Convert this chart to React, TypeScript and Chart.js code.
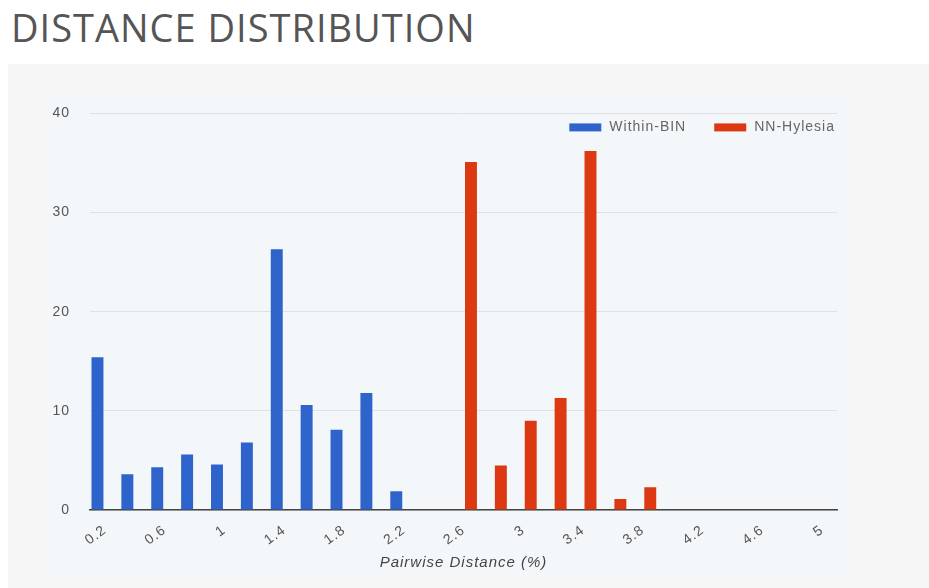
import React, { useEffect, useRef } from "react";
import { Chart, registerables } from "chart.js";

Chart.register(...registerables);

const distances = [
  "0.2", "0.4", "0.6", "0.8", "1", "1.2", "1.4", "1.6", "1.8", "2", "2.2", "2.4", "2.6",
  "2.8", "3", "3.2", "3.4", "3.6", "3.8", "4", "4.2", "4.4", "4.6", "4.8", "5",
];
const withinBin = [
  15.4, 3.6, 4.3, 5.6, 4.6, 6.8, 26.3, 10.6, 8.1, 11.8, 1.9, null, null,
  null, null, null, null, null, null, null, null, null, null, null, null,
];
const nnHylesia = [
  null, null, null, null, null, null, null, null, null, null, null, null, 35.1,
  4.5, 9.0, 11.3, 36.2, 1.1, 2.3, null, null, null, null, null, null,
];
const seriesNames = ["Within-BIN", "NN-Hylesia"];
const seriesColors = ["#2f63cc", "#dc3912"];
const xTitle = "Pairwise Distance (%)";
const chartTitle = "DISTANCE DISTRIBUTION";

const FONT = "Arial, 'Liberation Sans', sans-serif";

const spacingPlugin = {
  id: "spacing",
  beforeUpdate(chart: any) {
    chart.ctx.letterSpacing = "1px";
  },
  beforeDraw(chart: any) {
    chart.ctx.letterSpacing = "1px";
  },
};

const legendPlugin = {
  id: "insideLegend",
  afterDraw(chart: any) {
    const ctx = chart.ctx;
    const area = chart.chartArea;
    ctx.save();
    ctx.letterSpacing = "1px";
    ctx.font = `14px ${FONT}`;
    ctx.textBaseline = "middle";
    ctx.textAlign = "left";
    const boxW = 32;
    const boxH = 8;
    const gapBoxText = 8;
    const gapItems = 28;
    const items = chart.data.datasets.map((d: any) => ({
      label: d.label,
      color: d.backgroundColor,
      w: boxW + gapBoxText + ctx.measureText(d.label).width,
    }));
    const total = items.reduce((a: number, it: any) => a + it.w, 0) + gapItems * (items.length - 1);
    let x = area.right - 2 - total;
    const yc = area.top + 14;
    for (const it of items) {
      ctx.fillStyle = it.color;
      ctx.fillRect(x, yc - boxH / 2, boxW, boxH);
      ctx.fillStyle = "#666";
      ctx.fillText(it.label, x + boxW + gapBoxText, yc);
      x += it.w + gapItems;
    }
    ctx.restore();
  },
};

function BarChart() {
  const ref = useRef<HTMLCanvasElement | null>(null);
  useEffect(() => {
    if (!ref.current) return;
    const chart = new Chart(ref.current, {
      type: "bar",
      data: {
        labels: distances,
        datasets: [
          { label: seriesNames[0], data: withinBin, backgroundColor: seriesColors[0], borderWidth: 0 },
          { label: seriesNames[1], data: nnHylesia, backgroundColor: seriesColors[1], borderWidth: 0 },
        ],
      },
      plugins: [spacingPlugin, legendPlugin],
      options: {
        animation: false,
        responsive: true,
        maintainAspectRatio: false,
        datasets: { bar: { categoryPercentage: 1.0, barPercentage: 0.8 } },
        layout: { padding: { left: 0, right: 11, top: 10, bottom: 0 } },
        plugins: {
          tooltip: { enabled: false },
          legend: { display: false },
        },
        scales: {
          x: {
            type: "category",
            offset: true,
            grid: { display: false, drawTicks: false },
            border: { display: true, color: "#444", width: 1.5 },
            ticks: {
              autoSkip: false,
              minRotation: 36,
              maxRotation: 36,
              padding: 12,
              color: "#555",
              font: { family: FONT, size: 14 },
              callback: (_v: any, i: number) => (i % 2 === 0 ? distances[i] : null),
            },
            title: {
              display: true,
              text: xTitle,
              color: "#444",
              padding: { top: 4, bottom: 6 },
              font: { family: FONT, size: 15, style: "italic" },
            },
            afterFit: (s: any) => {
              s.height = 68;
            },
          },
          y: {
            min: 0,
            max: 40,
            grid: { color: "#dfe1e4", drawTicks: false },
            border: { display: false },
            ticks: {
              stepSize: 10,
              padding: 20,
              color: "#555",
              font: { family: FONT, size: 14 },
            },
            afterFit: (s: any) => {
              s.width = 42;
            },
          },
        },
      },
    } as any);
    return () => chart.destroy();
  }, []);
  return <canvas ref={ref} />;
}

export default function App() {
  return (
    <div
      style={{
        position: "absolute",
        left: 0,
        top: 0,
        width: 929,
        height: 588,
        background: "#ffffff",
        overflow: "hidden",
      }}
    >
      <div
        style={{
          position: "absolute",
          left: 11,
          top: 4,
          fontFamily: "'Open Sans', sans-serif",
          fontSize: 38,
          lineHeight: "46px",
          letterSpacing: "1px",
          color: "#555",
          fontWeight: 400,
          whiteSpace: "nowrap",
        }}
      >
        {chartTitle}
      </div>
      <div
        style={{
          position: "absolute",
          left: 8,
          top: 64,
          width: 921,
          height: 524,
          background: "#f6f6f6",
        }}
      />
      <div
        style={{
          position: "absolute",
          left: 48,
          top: 92,
          width: 800,
          height: 486,
          background: "#f4f7fa",
        }}
      />
      <div
        style={{
          position: "absolute",
          left: 48,
          top: 85,
          width: 800,
          height: 493,
        }}
      >
        <BarChart />
      </div>
    </div>
  );
}
